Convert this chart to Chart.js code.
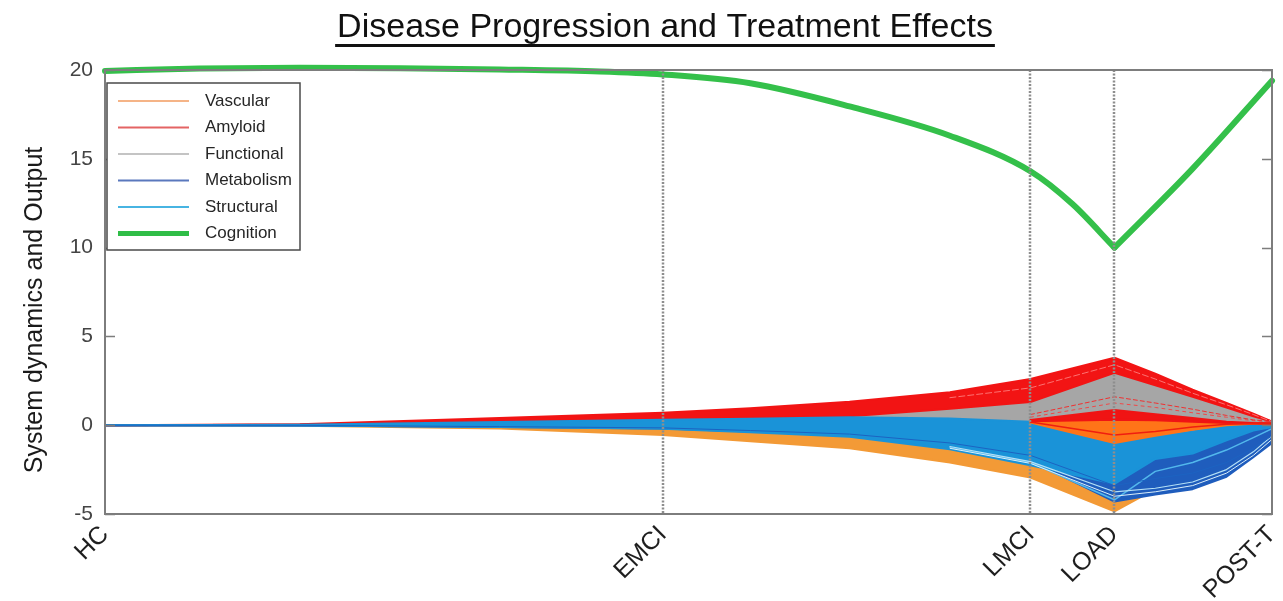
<!DOCTYPE html>
<html>
<head>
<meta charset="utf-8">
<title>Disease Progression and Treatment Effects</title>
<script src="https://cdn.jsdelivr.net/npm/chart.js@4.4.1/dist/chart.umd.min.js"></script>
<style>
  html, body { margin: 0; padding: 0; background: #fff; }
  #wrap { width: 1283px; height: 601px; }
</style>
</head>
<body>
<div id="wrap"><canvas id="progression_chart" width="1283" height="601"></canvas></div>
<script>
// disease stages on the x axis and where they sit on the time line
var stages = ['HC', 'EMCI', 'LMCI', 'LOAD', 'POST-T'];
var stageX = [0, 47.8, 79.3, 86.5, 100];

// y axis ticks
var yTicks = [-5, 0, 5, 10, 15, 20];

// time points where the biomarker trajectories are sampled
var timeX = [0, 16.7, 33.8, 47.8, 55.3, 63.8, 72.4, 79.3, 86.5, 90.0, 93.2, 96.1, 98.4, 100];

// upper and lower edge of each biomarker bundle
var amyloidUpper     = [0, 0.05, 0.4, 0.7, 0.95, 1.32, 1.85, 2.6, 3.8, 2.9, 2.0, 1.25, 0.65, 0.2];
var amyloidLower     = [0, 0.02, 0.2, 0.33, 0.42, 0.5, 0.93, 1.3, 2.95, 2.25, 1.6, 1.0, 0.5, 0.2];
var functionalUpper  = [0, 0.02, 0.22, 0.33, 0.42, 0.5, 0.95, 1.4, 3.0, 2.3, 1.6, 1.05, 0.5, 0.2];
var functionalLower  = [0, 0, 0.15, 0.3, 0.38, 0.45, 0.38, 0.2, -0.9, -0.6, -0.3, -0.05, 0.1, 0.15];
var structuralUpper  = [0, 0.02, 0.18, 0.3, 0.36, 0.45, 0.38, 0.2, -1.0, -0.65, -0.35, -0.05, 0.05, 0.15];
var structuralLower  = [0, -0.02, -0.1, -0.2, -0.4, -0.65, -1.35, -2.25, -3.3, -1.9, -1.6, -0.85, -0.3, -0.1];
var metabolismUpper  = [0, 0, -0.05, -0.1, -0.2, -0.35, -0.8, -1.5, -1.8, -1.55, -1.45, -0.8, -0.25, -0.05];
var metabolismLower  = [0, -0.02, -0.1, -0.18, -0.35, -0.6, -1.2, -2.0, -4.3, -3.9, -3.6, -2.9, -1.8, -1.0];
var vascularUpper    = [0, 0, -0.1, -0.2, -0.35, -0.6, -1.3, -2.2, -4.1, -3.3, -2.4, -1.35, -0.6, -0.1];
var vascularLower    = [0, -0.03, -0.18, -0.55, -0.9, -1.3, -2.1, -2.95, -4.85, -3.6, -2.5, -1.45, -0.65, -0.1];

// lines that split away from the bundles after LMCI
var amyloidWedgeUpper  = [null, null, null, null, null, null, null, 0.3, 0.85, 0.62, 0.4, 0.2, 0.12, 0.1];
var amyloidWedgeLower  = [null, null, null, null, null, null, null, 0.22, 0.3, 0.28, 0.2, 0.12, 0.1, 0.1];
var amyloidWedgeInner  = [null, null, null, null, null, null, null, 0.18, -0.55, -0.35, -0.1, 0.05, 0.1, 0.1];
var vascularWedgeUpper = [null, null, null, null, null, null, null, 0.2, 0.3, 0.25, 0.18, 0.1, 0.1, 0.1];
var vascularWedgeLower = [null, null, null, null, null, null, null, 0.15, -1.0, -0.6, -0.25, 0.0, 0.08, 0.1];
var amyloidSparseA     = [null, null, null, null, null, null, null, 0.6, 1.6, 1.25, 0.9, 0.55, 0.3, 0.2];
var amyloidSparseB     = [null, null, null, null, null, null, null, 0.45, 1.25, 1.0, 0.7, 0.45, 0.25, 0.2];
var amyloidStreak      = [null, null, null, null, null, null, 1.55, 2.1, 3.4, 2.6, 1.8, 1.15, 0.6, 0.2];
var structuralStreakA  = [null, null, null, null, null, null, -1.2, -2.05, -3.75, -3.55, -3.2, -2.5, -1.5, -0.6];
var structuralStreakB  = [null, null, null, null, null, null, -1.3, -2.15, -4.0, -3.75, -3.4, -2.7, -1.7, -0.8];
var structuralStreakC  = [null, null, null, null, null, null, -1.25, -2.1, -4.2, -2.6, -2.1, -1.4, -0.7, -0.2];
var metabolismStreak   = [0, -0.01, -0.08, -0.15, -0.3, -0.5, -1.0, -1.7, -3.4, -3.0, -2.7, -2.1, -1.3, -0.6];

// cognition output, sampled on its own time points
var cognitionX = [0, 8.1, 16.7, 25.3, 33.8, 42.4, 47.8, 55.3, 63.8, 72.4, 79.3, 82.9, 86.5, 93.2, 100];
var cognition  = [19.95, 20.08, 20.12, 20.1, 20.03, 19.92, 19.75, 19.25, 17.95, 16.3, 14.3, 12.45, 10.0, 14.45, 19.4];

// legend names and their colours
var legendNames  = ['Vascular', 'Amyloid', 'Functional', 'Metabolism', 'Structural', 'Cognition'];
var legendColors = ['#f5b487', '#e46464', '#c4c4c4', '#5a78bd', '#47b4e2', '#2fbd47'];
var legendWidths = [2, 2, 2, 2, 2, 5];

var FONT = '"Liberation Sans", Arial, Helvetica, sans-serif';

//turn a list of values into chart points on the given time line
function points(xs, values)
{
    return xs.map(function(x, i){
        return {x: x, y: values[i]};
    });
}

var datasets = [];

//a single line, lower "order" values end up on top
function addLine(values, color, width, order, dash)
{
    datasets.push({
        data: points(timeX, values),
        borderColor: color,
        borderWidth: width,
        borderDash: dash || [],
        fill: false,
        order: order
    });
    return datasets.length - 1;
}

//a dense bundle of trajectories: lower edge, then upper edge filled down to it
function addBand(upper, lower, color, order)
{
    var low = addLine(lower, color, 2, order);
    datasets.push({
        data: points(timeX, upper),
        borderColor: color,
        borderWidth: 2,
        backgroundColor: color,
        fill: low,
        order: order
    });
}

addBand(vascularUpper, vascularLower, '#f39a36', 9);
addBand(functionalUpper, functionalLower, '#a6a6a6', 8);
addBand(metabolismUpper, metabolismLower, '#1f5dbd', 7);
addBand(amyloidUpper, amyloidLower, '#f21414', 6);
addBand(structuralUpper, structuralLower, '#1a93d8', 5);
addLine(metabolismStreak, '#1c63c2', 1, 4);
addLine(structuralStreakA, '#b4e0f6', 1.2, 4);
addLine(structuralStreakB, '#d9eefa', 1, 4);
addLine(structuralStreakC, '#52b8ec', 1.5, 4);
addLine(amyloidStreak, '#ff8a8a', 0.8, 4, [6, 3]);
addBand(vascularWedgeUpper, vascularWedgeLower, '#ff7418', 3);
addLine(amyloidWedgeInner, '#f01e10', 1.5, 2);
addBand(amyloidWedgeUpper, amyloidWedgeLower, '#f01414', 2);
addLine(amyloidSparseA, '#f03030', 1, 2, [4, 3]);
addLine(amyloidSparseB, '#f04848', 1, 2, [3, 4]);

//cognition is smooth on both sides of the LOAD minimum, so it goes in two pieces
var loadIndex = cognitionX.indexOf(86.5);
[[0, loadIndex + 1], [loadIndex, cognitionX.length]].forEach(function(part){
    datasets.push({
        data: points(cognitionX.slice(part[0], part[1]), cognition.slice(part[0], part[1])),
        borderColor: '#34c04a',
        borderWidth: 6,
        cubicInterpolationMode: 'monotone',
        fill: false,
        clip: 10,
        order: 0
    });
});

//stage lines, box, inside ticks and legend, drawn over the bundles
var framePlugin = {
    id: 'frame',
    afterDatasetsDraw: function(chart)
    {
        var ctx = chart.ctx;
        var area = chart.chartArea;
        var xs = chart.scales.x;
        var ys = chart.scales.y;

        ctx.save();

        //dotted stage markers
        ctx.strokeStyle = '#8e8e8e';
        ctx.lineWidth = 2.5;
        ctx.setLineDash([2, 1.5]);
        stageX.forEach(function(v){
            var px = Math.round(xs.getPixelForValue(v));
            if(px <= area.left + 1 || px >= area.right - 1)
                return;
            ctx.beginPath();
            ctx.moveTo(px, area.top);
            ctx.lineTo(px, area.bottom);
            ctx.stroke();
        });
        ctx.setLineDash([]);

        //axes box
        ctx.strokeStyle = '#7d7d7d';
        ctx.lineWidth = 2;
        ctx.strokeRect(area.left, area.top, area.right - area.left, area.bottom - area.top);

        //tick marks pointing inwards on both sides
        ctx.lineWidth = 1.5;
        yTicks.forEach(function(v){
            var py = Math.round(ys.getPixelForValue(v)) + 0.5;
            ctx.beginPath();
            ctx.moveTo(area.left, py);
            ctx.lineTo(area.left + 10, py);
            ctx.moveTo(area.right, py);
            ctx.lineTo(area.right - 10, py);
            ctx.stroke();
        });

        //legend box in the upper left corner
        var lx = area.left + 2;
        var ly = area.top + 13;
        var lw = 193;
        var lh = 167;
        ctx.fillStyle = '#ffffff';
        ctx.fillRect(lx, ly, lw, lh);
        ctx.strokeStyle = '#4a4a4a';
        ctx.lineWidth = 1.5;
        ctx.strokeRect(lx, ly, lw, lh);

        ctx.font = '17px ' + FONT;
        ctx.textBaseline = 'middle';
        ctx.textAlign = 'left';
        legendNames.forEach(function(name, i){
            var rowY = ly + 18 + i * 26.5;
            ctx.strokeStyle = legendColors[i];
            ctx.lineWidth = legendWidths[i];
            ctx.beginPath();
            ctx.moveTo(lx + 11, rowY);
            ctx.lineTo(lx + 82, rowY);
            ctx.stroke();
            ctx.fillStyle = '#262626';
            ctx.fillText(name, lx + 98, rowY);
        });

        ctx.restore();
    },
    afterDraw: function(chart)
    {
        var ctx = chart.ctx;
        ctx.save();

        //underlined title
        var title = 'Disease Progression and Treatment Effects';
        ctx.font = '34px ' + FONT;
        ctx.fillStyle = '#111111';
        ctx.textAlign = 'center';
        ctx.textBaseline = 'alphabetic';
        ctx.fillText(title, 665, 37);
        var tw = ctx.measureText(title).width;
        ctx.strokeStyle = '#111111';
        ctx.lineWidth = 3;
        ctx.beginPath();
        ctx.moveTo(665 - tw / 2 - 2, 45.5);
        ctx.lineTo(665 + tw / 2 + 2, 45.5);
        ctx.stroke();

        //y axis label
        ctx.translate(35, 310);
        ctx.rotate(-Math.PI / 2);
        ctx.font = '25px ' + FONT;
        ctx.fillStyle = '#1a1a1a';
        ctx.textBaseline = 'middle';
        ctx.fillText('System dynamics and Output', 0, 0);

        ctx.restore();
    }
};

var chart = new Chart(document.getElementById('progression_chart'), {
    type: 'line',
    data: { datasets: datasets },
    options: {
        responsive: false,
        animation: false,
        events: [],
        layout: { padding: { top: 70, right: 11, left: 0, bottom: 0 } },
        elements: {
            point: { radius: 0 },
            line: { tension: 0, borderCapStyle: 'round', borderJoinStyle: 'round' }
        },
        plugins: {
            legend: { display: false },
            tooltip: { enabled: false }
        },
        scales: {
            x: {
                type: 'linear',
                min: 0,
                max: 100,
                grid: { display: false, drawTicks: false },
                border: { display: false },
                afterBuildTicks: function(scale){
                    scale.ticks = stageX.map(function(v){ return {value: v}; });
                },
                afterFit: function(scale){
                    scale.height = 87;
                    scale.paddingLeft = 0;
                    scale.paddingRight = 0;
                },
                ticks: {
                    autoSkip: false,
                    minRotation: 45,
                    maxRotation: 45,
                    padding: 6,
                    color: '#1e1e1e',
                    font: { family: FONT, size: 25 },
                    callback: function(value){
                        return stages[stageX.indexOf(value)];
                    }
                }
            },
            y: {
                type: 'linear',
                min: -5,
                max: 20,
                grid: { display: false, drawTicks: false },
                border: { display: false },
                afterBuildTicks: function(scale){
                    scale.ticks = yTicks.map(function(v){ return {value: v}; });
                },
                afterFit: function(scale){
                    scale.width = 105;
                    scale.paddingTop = 0;
                    scale.paddingBottom = 0;
                },
                ticks: {
                    padding: 12,
                    color: '#444444',
                    font: { family: FONT, size: 21 }
                }
            }
        }
    },
    plugins: [framePlugin]
});
</script>
</body>
</html>
